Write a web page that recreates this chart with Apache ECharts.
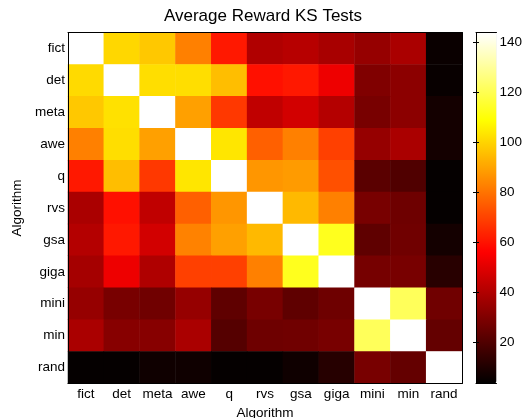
<!DOCTYPE html>
<html>
<head>
<meta charset="utf-8">
<script src="https://cdn.jsdelivr.net/npm/echarts@6/dist/echarts.min.js"></script>
<style>
  html, body { margin: 0; padding: 0; background: #fff; }
  #chart { width: 526px; height: 418px; }
</style>
</head>
<body>
<div id="chart"></div>
<script>
// algorithms, same order on both axes
const algorithms = ['fict', 'det', 'meta', 'awe', 'q', 'rvs', 'gsa', 'giga', 'mini', 'min', 'rand']

// one row per algorithm
const rowFict = [144, 100.6, 97.5, 82.6, 61.1, 39.7, 41.2, 38.1, 34.3, 38.5, 5.3]
const rowDet = [101.2, 144, 102, 102, 95.4, 59.4, 61.1, 52.5, 29.8, 32.3, 4.9]
const rowMeta = [97.5, 102.7, 144, 89.2, 67.7, 43, 46.7, 40.5, 28.1, 32.3, 7.4]
const rowAwe = [82.6, 102, 89.2, 144, 103.7, 76, 82.6, 69.3, 34.3, 38.5, 7.4]
const rowQ = [61.1, 95.4, 67.7, 103.7, 144, 87.1, 88.1, 72.7, 21.9, 19.9, 4.3]
const rowRvs = [38.5, 59.4, 43, 76, 87.1, 144, 94.4, 82.6, 28.1, 26, 4.3]
const rowGsa = [40.5, 61.1, 46.7, 83, 89.2, 94.4, 144, 112.9, 23, 26.5, 7.4]
const rowGiga = [37.4, 52.5, 39.5, 69.3, 69.3, 82.6, 112.9, 144, 27.7, 28.1, 11.6]
const rowMini = [34.3, 28.1, 26.5, 34.3, 23, 28.1, 23, 26, 144, 121.2, 26.5]
const rowMin = [38.5, 31.2, 31.2, 38.5, 20.9, 26, 26.5, 28.1, 121.2, 144, 24]
const rowRand = [4.3, 4.3, 6.4, 6.4, 4.3, 4.3, 6.4, 11.2, 28.1, 24, 144]

const colorTicks = [20, 40, 60, 80, 100, 120, 140]
const colorMin = 3.3
const colorMax = 144

const rows = [rowFict, rowDet, rowMeta, rowAwe, rowQ, rowRvs, rowGsa, rowGiga, rowMini, rowMin, rowRand]
const cells = []
rows.forEach((row, y) => {
  row.forEach((v, x) => cells.push([x, y, v]))
})

// matlab "hot" as evenly spaced stops
const hot = ['#000000', '#550000', '#aa0000', '#ff0000', '#ff5500', '#ffaa00', '#ffff00', '#ffff80', '#ffffff']

const font = 'Liberation Sans'
const black = '#000'

const chart = echarts.init(document.getElementById('chart'))

chart.setOption({
  animation: false,
  textStyle: { fontFamily: font },
  title: {
    text: 'Average Reward KS Tests',
    left: 'center',
    top: 3,
    textStyle: { fontSize: 17, fontWeight: 'normal', color: black, fontFamily: font },
  },
  grid: [
    { left: 68, top: 32.5, width: 394, height: 351, outerBoundsMode: 'none' },
    { left: 476, top: 32.5, width: 20.5, height: 351, outerBoundsMode: 'none' },
  ],
  xAxis: [
    {
      type: 'category',
      gridIndex: 0,
      data: algorithms,
      position: 'bottom',
      z: 10,
      axisLine: { lineStyle: { color: black, width: 1 } },
      axisTick: { inside: true, alignWithLabel: true, length: 4, lineStyle: { color: black } },
      axisLabel: { color: black, fontSize: 13.5, margin: 4, interval: 0 },
      splitLine: { show: false },
      name: 'Algorithm',
      nameLocation: 'middle',
      nameGap: 18,
      nameTextStyle: { color: black, fontSize: 13.5 },
    },
    {
      type: 'category',
      gridIndex: 0,
      data: algorithms,
      position: 'top',
      z: 10,
      axisLine: { lineStyle: { color: black, width: 1 } },
      axisTick: { inside: true, alignWithLabel: true, length: 4, lineStyle: { color: black } },
      axisLabel: { show: false },
      splitLine: { show: false },
    },
    {
      type: 'value',
      gridIndex: 1,
      min: 0,
      max: 1,
      position: 'bottom',
      z: 10,
      axisLine: { lineStyle: { color: black, width: 1 } },
      axisTick: { show: false },
      axisLabel: { show: false },
      splitLine: { show: false },
    },
    {
      type: 'value',
      gridIndex: 1,
      min: 0,
      max: 1,
      position: 'top',
      z: 10,
      axisLine: { lineStyle: { color: black, width: 1 } },
      axisTick: { show: false },
      axisLabel: { show: false },
      splitLine: { show: false },
    },
  ],
  yAxis: [
    {
      type: 'category',
      gridIndex: 0,
      data: algorithms,
      inverse: true,
      position: 'left',
      z: 10,
      axisLine: { lineStyle: { color: black, width: 1 } },
      axisTick: { inside: true, alignWithLabel: true, length: 4, lineStyle: { color: black } },
      axisLabel: { color: black, fontSize: 13.5, margin: 3, interval: 0 },
      splitLine: { show: false },
      name: 'Algorithm',
      nameLocation: 'middle',
      nameGap: 35,
      nameTextStyle: { color: black, fontSize: 13.5 },
    },
    {
      type: 'category',
      gridIndex: 0,
      data: algorithms,
      inverse: true,
      position: 'right',
      z: 10,
      axisLine: { lineStyle: { color: black, width: 1 } },
      axisTick: { inside: true, alignWithLabel: true, length: 4, lineStyle: { color: black } },
      axisLabel: { show: false },
      splitLine: { show: false },
    },
    {
      type: 'value',
      gridIndex: 1,
      min: colorMin,
      max: colorMax,
      position: 'right',
      z: 10,
      axisLine: { lineStyle: { color: black, width: 1 } },
      axisTick: { inside: true, length: 3, lineStyle: { color: black }, customValues: colorTicks },
      axisLabel: { color: black, fontSize: 13.5, margin: 3, customValues: colorTicks },
      splitLine: { show: false },
    },
    {
      type: 'value',
      gridIndex: 1,
      min: colorMin,
      max: colorMax,
      position: 'left',
      z: 10,
      axisLine: { lineStyle: { color: black, width: 1 } },
      axisTick: { inside: true, length: 3, lineStyle: { color: black }, customValues: colorTicks },
      axisLabel: { show: false },
      splitLine: { show: false },
    },
  ],
  visualMap: {
    type: 'continuous',
    seriesIndex: 0,
    min: colorMin,
    max: colorMax,
    calculable: false,
    orient: 'vertical',
    left: 476,
    top: 32.5,
    itemWidth: 20.5,
    itemHeight: 351,
    padding: 0,
    text: null,
    hoverLink: false,
    inRange: { color: hot },
  },
  series: [
    {
      type: 'heatmap',
      xAxisIndex: 0,
      yAxisIndex: 0,
      data: cells,
      itemStyle: { borderWidth: 0 },
      emphasis: { disabled: true },
    },
  ],
})
</script>
</body>
</html>
